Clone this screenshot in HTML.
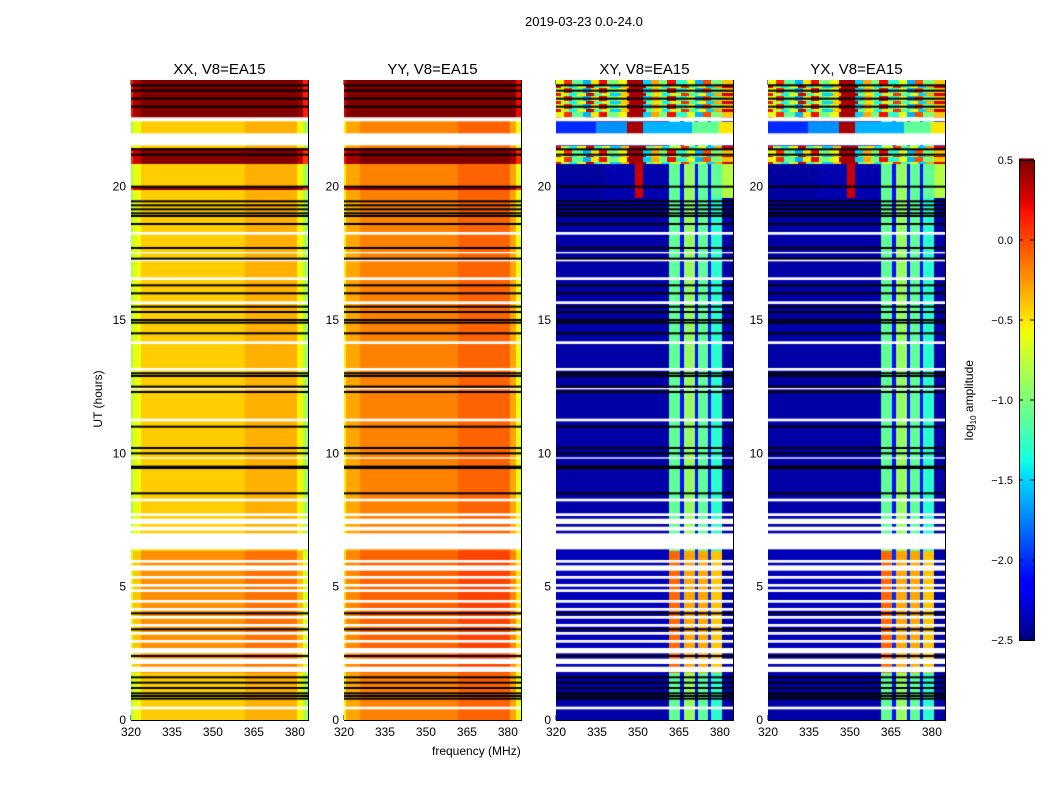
<!DOCTYPE html>
<html><head><meta charset="utf-8"><style>
body{margin:0;background:#fff;font-family:"Liberation Sans",sans-serif;}
#root{position:relative;width:1050px;height:800px;overflow:hidden;background:#fff}
.t{position:absolute;font-size:12px;color:#000;white-space:nowrap}
canvas{position:absolute}
</style></head><body>
<div id="root">
<div class="t" style="left:525px;top:14px;font-size:13px">2019-03-23 0.0-24.0</div>
<div class="t" style="left:432px;top:744px;font-size:12px">frequency (MHz)</div>
<div class="t" style="left:60px;top:392px;transform:rotate(-90deg);transform-origin:center;width:76px;text-align:center">UT (hours)</div>
<div class="t" style="left:920px;top:392px;transform:rotate(-90deg);width:100px;text-align:center">log<sub style="font-size:8px">10</sub> amplitude</div>
<svg id="svg" width="1050" height="800" style="position:absolute;left:0;top:0"></svg>
</div>
<script>
// ---- data ----
const panelTitles=["XX, V8=EA15","YY, V8=EA15","XY, V8=EA15","YX, V8=EA15"];
const xTicks=[320,335,350,365,380];
const yTicks=[0,5,10,15,20];
const cbTicks=[0.5,0.0,-0.5,-1.0,-1.5,-2.0,-2.5];
const xxProfile=[[320,321,-0.85],[321,324,-0.6],[324,362,-0.42],[362,381,-0.33],[381,383,-0.55],[383,385,-0.85]];
const yyProfile=[[320,321,-0.55],[321,326,-0.3],[326,362,-0.18],[362,381,-0.08],[381,383,-0.3],[383,385,-0.6]];
const xyProfile=[[320,361.5,-2.4],[361.5,365.7,-1.1],[365.7,367,-2.1],[367,371,-0.9],[371,372,-2.1],[372,376,-1.1],[376,377,-2.1],[377,381,-1.3],[381,385,-2.4]];
const xyUpperProfile=[[320,338,-2.42],[338,349,-2.38],[349,352,0.3],[352,361.5,-2.38],[361.5,365.7,-1.1],[365.7,367,-2.1],[367,371,-0.9],[371,372,-2.1],[372,376,-1.1],[376,377,-2.1],[377,381,-1.1],[381,385,-0.8]];
const xyTopA=[[320,322,0.2],[322,325,-0.8],[325,328,-1.4],[328,331,-0.6],[331,334,0.3],[334,337,-1.2],[337,340,-0.7],[340,344,-1.5],[344,347,-0.4],[347,353,0.4],[353,356,-1.0],[356,359,-0.5],[359,362,-1.4],[362,366,-0.7],[366,369,0.1],[369,372,-1.2],[372,375,-0.6],[375,378,-1.5],[378,381,-0.3],[381,385,0.3]];
const xyTopB=[[320,323,-0.6],[323,326,0.1],[326,330,-1.1],[330,333,-1.6],[333,336,-0.5],[336,339,0.2],[339,343,-1.0],[343,346,-0.6],[346,352,0.4],[352,355,-1.5],[355,358,-0.3],[358,361,-1.0],[361,364,0.2],[364,368,-1.3],[368,371,-0.6],[371,374,-1.6],[374,377,0.0],[377,381,-1.0],[381,385,-0.4]];
const xyBandProfile=[[320,335,-2.0],[335,346,-1.7],[346,352,0.4],[352,370,-1.6],[370,380,-1.1],[380,385,-0.5]];
const xyLowProfile=[[320,361.5,-2.35],[361.5,365.7,-0.1],[365.7,367,-2.0],[367,371,-0.3],[371,372,-2.0],[372,376,-0.3],[376,377,-2.0],[377,381,-0.4],[381,385,-2.4]];
// XY row profile segments: [h0,h1,profileName]
const xyRowProfiles=[[22.6,24,'A'],[22.0,22.45,'band'],[20.9,21.55,'A'],[19.6,20.9,'upper'],[1.8,6.4,'low']];
const topAltHours=[22.75,23.05,23.35,23.65,23.9,21.05,21.3];
// XX/YY row offsets: [h0,h1,offset]
const xxRows=[[1.8,6.4,0.2],[19.9,20.05,0.9],[20.9,21.5,0.9],[22.6,24,1.0]];
const yyRows=[[1.8,6.4,0.1],[19.9,20.05,0.7],[20.9,21.5,0.7],[22.6,24,0.8]];
const whiteBands=[[22.45,22.6],[21.55,22.0],[1.8,2.0],[2.1,2.3],[2.5,2.7],[2.9,3.0],[3.2,3.3],[3.5,3.6],[3.8,3.9],[4.1,4.2],[4.4,4.5],[4.8,4.9],[5.0,5.1],[5.3,5.4],[5.6,5.8],[5.9,6.0],[6.4,7.0],[7.1,7.25],[7.35,7.55],[7.65,7.75],[16.5,16.6],[17.2,17.3],[18.2,18.3],[15.6,15.7],[14.1,14.2],[13.1,13.2],[11.2,11.3],[0.4,0.5],[8.2,8.3],[9.8,9.85],[12.4,12.45],[17.5,17.55]];
const blackLines=[19.0,19.15,19.3,19.45,18.9,17.7,17.3,16.3,16.0,15.5,15.3,15.0,14.9,13.0,12.9,12.5,12.3,10.2,10.0,9.5,9.45,8.5,1.0,1.2,1.4,1.6,0.8,0.9,23.0,23.3,23.6,23.8,21.2,21.4,20.0,11.0,14.5,18.6,3.4,4.0,2.4];
const panelLefts=[131,344,556,768];
// ---- helpers ----
const PW=177,PT=80,PB=720,F0=320,F1=384.8;
const JR=[[0,0],[0.35,0],[0.66,1],[0.89,1],[1,0.5]];
const JG=[[0,0],[0.125,0],[0.375,1],[0.64,1],[0.91,0],[1,0]];
const JB=[[0,0.5],[0.11,1],[0.34,1],[0.65,0],[1,0]];
function seg(s,t){for(let k=1;k<s.length;k++)if(t<=s[k][0]){const a=s[k-1],b=s[k];return a[1]+(b[1]-a[1])*(t-a[0])/(b[0]-a[0]);}return s[s.length-1][1];}
function jet(v){let t=(v+2.5)/3;t=Math.max(0,Math.min(1,t));
 return `rgb(${Math.round(seg(JR,t)*255)},${Math.round(seg(JG,t)*255)},${Math.round(seg(JB,t)*255)})`;}
function prof(p,f){for(const s of p)if(f>=s[0]&&f<s[1])return s[2];return p[p.length-1][2];}
function xs(f){return (f-F0)/(F1-F0)*PW;}
function ys(h){return (PB-PT)-h/24*(PB-PT);}
function isAlt(h){return topAltHours.some(a=>Math.abs(h-a)<0.08);}
function profileFor(i,h){
 if(i==0)return xxProfile; if(i==1)return yyProfile;
 for(const r of xyRowProfiles)if(h>=r[0]&&h<r[1]){
  if(r[2]=='A')return isAlt(h)?xyTopB:xyTopA;
  if(r[2]=='band')return xyBandProfile;
  if(r[2]=='upper')return xyUpperProfile;
  if(r[2]=='low')return xyLowProfile;}
 return xyProfile;}
function rowOffset(i,h){if(i>1)return 0;const rs=i==0?xxRows:yyRows;let o=0;for(const r of rs)if(h>=r[0]&&h<r[1])o=r[2];return o;}
const root=document.getElementById('root');
const svg=document.getElementById('svg');
const NS="http://www.w3.org/2000/svg";
function mk(tag,attrs){const e=document.createElementNS(NS,tag);for(const k in attrs)e.setAttribute(k,attrs[k]);svg.appendChild(e);return e;}
panelLefts.forEach((L,i)=>{
 const c=document.createElement('canvas');c.width=PW;c.height=PB-PT;c.style.left=L+'px';c.style.top=PT+'px';
 
 
 root.appendChild(c);const ctx=c.getContext('2d');
 const dh=0.05;
 for(let h=0;h<24;h+=dh){
  const p=profileFor(i,h+dh/2),o=rowOffset(i,h+dh/2);
  for(let f=320;f<385;f+=0.5){
   ctx.fillStyle=jet(prof(p,f+0.25)+o);
   ctx.fillRect(Math.floor(xs(f)),Math.floor(ys(h+dh)),Math.ceil(xs(f+0.5)-xs(f))+1,Math.ceil(ys(h)-ys(h+dh))+1);
  }}
 ctx.fillStyle='#fff';
 whiteBands.forEach(b=>{ctx.fillRect(0,ys(b[1]),PW,ys(b[0])-ys(b[1]));});
 ctx.fillStyle='#000';
 blackLines.forEach(h=>{ctx.fillRect(0,ys(h)-1,PW,2);});
 const fr=mk('rect',{x:L+0.5,y:PT+0.5,width:PW,height:PB-PT,fill:'none',stroke:'#000'});
 
 
 const tt=mk('text',{x:L+PW/2,y:74,'text-anchor':'middle','font-size':15,'font-family':'Liberation Sans'});tt.textContent=panelTitles[i];
 
 
 xTicks.forEach(v=>{const x=L+xs(v);
  mk('line',{x1:x,x2:x,y1:PB,y2:PB-5,stroke:'#000'});mk('line',{x1:x,x2:x,y1:PT,y2:PT+5,stroke:'#000'});
  const t=mk('text',{x:x,y:PB+16,'text-anchor':'middle','font-size':12,'font-family':'Liberation Sans'});t.textContent=v;
  
  });
 yTicks.forEach(v=>{const y=PT+ys(v);
  mk('line',{x1:L,x2:L+5,y1:y,y2:y,stroke:'#000'});mk('line',{x1:L+PW-5,x2:L+PW,y1:y,y2:y,stroke:'#000'});
  const t=mk('text',{x:L-5,y:y+4,'text-anchor':'end','font-size':12,'font-family':'Liberation Sans'});t.textContent=v;
  
  });
});
// colorbar
const CX=1019,CW=15,CT=160,CB=640;
function cy(v){return CB-(v+2.5)/3*(CB-CT);}
for(let v=-2.5;v<0.5;v+=0.01){mk('rect',{x:CX,y:cy(v+0.01),width:CW,height:(CB-CT)/300+0.6,fill:jet(v+0.005)});}
const cbf=mk('rect',{x:CX+0.5,y:CT+0.5,width:CW,height:CB-CT,fill:'none',stroke:'#000'});


cbTicks.forEach(v=>{const y=cy(v);
 mk('line',{x1:CX,x2:CX+4,y1:y,y2:y,stroke:'#000'});mk('line',{x1:CX+CW-4,x2:CX+CW,y1:y,y2:y,stroke:'#000'});
 const t=mk('text',{x:1013,y:y+4,'text-anchor':'end','font-size':11,'font-family':'Liberation Sans'});t.textContent=v.toFixed(1).replace('-','\u2212');
 
 });
</script>
</body></html>
